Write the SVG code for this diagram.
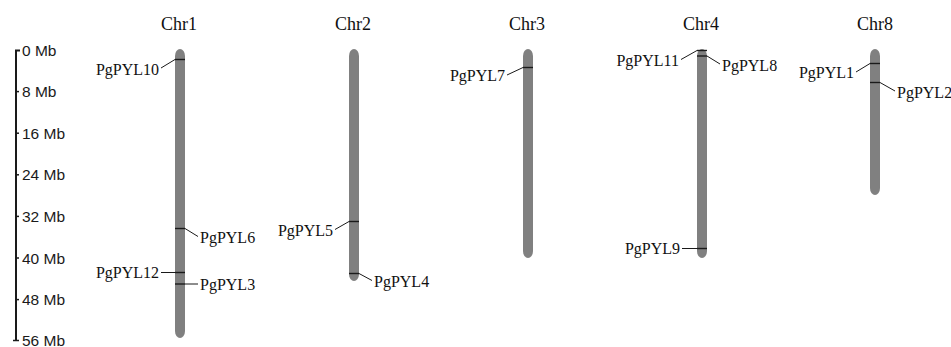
<svg xmlns="http://www.w3.org/2000/svg" width="951" height="347" viewBox="0 0 951 347">
  <style>
    .bg { fill: #ffffff; }
    .chr { fill: #808080; }
    .title { font-family: "Liberation Serif", "Times New Roman", serif; font-size: 18px; fill: #111; text-anchor: middle; }
    .gene { font-family: "Liberation Serif", "Times New Roman", serif; font-size: 16px; fill: #111; }
    .end { text-anchor: end; }
    .mark { stroke: #1a1a1a; stroke-width: 1.4; }
    .lead { stroke: #1a1a1a; stroke-width: 1; fill: none; }
    .axis { stroke: #1a1a1a; stroke-width: 2; fill: none; }
    .tick { stroke: #1a1a1a; stroke-width: 1.5; }
    .scale { font-family: "Liberation Sans", Arial, sans-serif; font-size: 15.5px; fill: #1a1a1a; }
  </style>
  <rect class="bg" x="0" y="0" width="951" height="347"/>

  <!-- scale bar -->
  <g id="scale">
    <path class="axis" d="M20,50.5 H16 V341"/>
    <line class="tick" x1="16" y1="91.6" x2="19" y2="91.6"/>
    <line class="tick" x1="16" y1="133.2" x2="19" y2="133.2"/>
    <line class="tick" x1="16" y1="174.8" x2="19" y2="174.8"/>
    <line class="tick" x1="16" y1="216.4" x2="19" y2="216.4"/>
    <line class="tick" x1="16" y1="258" x2="19" y2="258"/>
    <line class="tick" x1="16" y1="299.6" x2="19" y2="299.6"/>
    <line class="tick" x1="13" y1="340.5" x2="19" y2="340.5"/>
    <text class="scale" x="22" y="56">0 Mb</text>
    <text class="scale" x="22" y="97.2">8 Mb</text>
    <text class="scale" x="22" y="138.8">16 Mb</text>
    <text class="scale" x="22" y="180.4">24 Mb</text>
    <text class="scale" x="22" y="222">32 Mb</text>
    <text class="scale" x="22" y="263.6">40 Mb</text>
    <text class="scale" x="22" y="305.2">48 Mb</text>
    <text class="scale" x="22" y="345.5">56 Mb</text>
  </g>

  <!-- chromosomes -->
  <g id="chr1">
    <text class="title" x="179" y="30">Chr1</text>
    <rect class="chr" x="175" y="49" width="10" height="289" rx="5" ry="7"/>
  </g>
  <g id="chr2">
    <text class="title" x="353" y="30">Chr2</text>
    <rect class="chr" x="349" y="49" width="10" height="232" rx="5" ry="7"/>
  </g>
  <g id="chr3">
    <text class="title" x="527" y="30">Chr3</text>
    <rect class="chr" x="523" y="49" width="10" height="209" rx="5" ry="7"/>
  </g>
  <g id="chr4">
    <text class="title" x="701" y="30">Chr4</text>
    <rect class="chr" x="697" y="49" width="10" height="209" rx="5" ry="7"/>
  </g>
  <g id="chr8">
    <text class="title" x="875" y="30">Chr8</text>
    <rect class="chr" x="870" y="49" width="10" height="146" rx="5" ry="7"/>
  </g>

  <!-- gene positions and leaders -->
  <g id="connectors">
    <line class="mark" x1="175" y1="59.5" x2="185" y2="59.5"/>
    <polyline class="lead" points="175,59.5 161,68"/>
    <line class="mark" x1="175" y1="228.5" x2="185" y2="228.5"/>
    <polyline class="lead" points="185,228.5 198,236.5"/>
    <line class="mark" x1="175" y1="272.5" x2="185" y2="272.5"/>
    <polyline class="lead" points="175,272.5 161,272.5"/>
    <line class="mark" x1="175" y1="284" x2="185" y2="284"/>
    <polyline class="lead" points="185,284 198,284"/>

    <line class="mark" x1="349" y1="221.5" x2="359" y2="221.5"/>
    <polyline class="lead" points="349,221.5 335,229.5"/>
    <line class="mark" x1="349" y1="273.5" x2="359" y2="273.5"/>
    <polyline class="lead" points="359,273.5 372,280.5"/>

    <line class="mark" x1="523" y1="67.5" x2="533" y2="67.5"/>
    <polyline class="lead" points="523,67.5 507,75"/>

    <line class="mark" x1="697" y1="50.5" x2="707" y2="50.5"/>
    <polyline class="lead" points="697,50.5 681,59.5"/>
    <line class="mark" x1="697" y1="56" x2="707" y2="56"/>
    <polyline class="lead" points="707,56 720,64"/>
    <line class="mark" x1="697" y1="248.5" x2="707" y2="248.5"/>
    <polyline class="lead" points="697,248.5 682,248.5"/>

    <line class="mark" x1="870" y1="63.5" x2="880" y2="63.5"/>
    <polyline class="lead" points="870,63.5 856,72"/>
    <line class="mark" x1="870" y1="82.5" x2="880" y2="82.5"/>
    <polyline class="lead" points="880,82.5 895,91"/>
  </g>

  <!-- gene labels -->
  <g id="labels">
    <text class="gene end" x="159" y="74.5">PgPYL10</text>
    <text class="gene" x="200" y="243">PgPYL6</text>
    <text class="gene end" x="159" y="278">PgPYL12</text>
    <text class="gene" x="200" y="290">PgPYL3</text>
    <text class="gene end" x="333" y="236">PgPYL5</text>
    <text class="gene" x="374" y="287">PgPYL4</text>
    <text class="gene end" x="505" y="81">PgPYL7</text>
    <text class="gene end" x="679" y="65.5">PgPYL11</text>
    <text class="gene" x="722" y="70.5">PgPYL8</text>
    <text class="gene end" x="680" y="254">PgPYL9</text>
    <text class="gene end" x="854" y="78">PgPYL1</text>
    <text class="gene" x="897" y="97.5">PgPYL2</text>
  </g>
</svg>
